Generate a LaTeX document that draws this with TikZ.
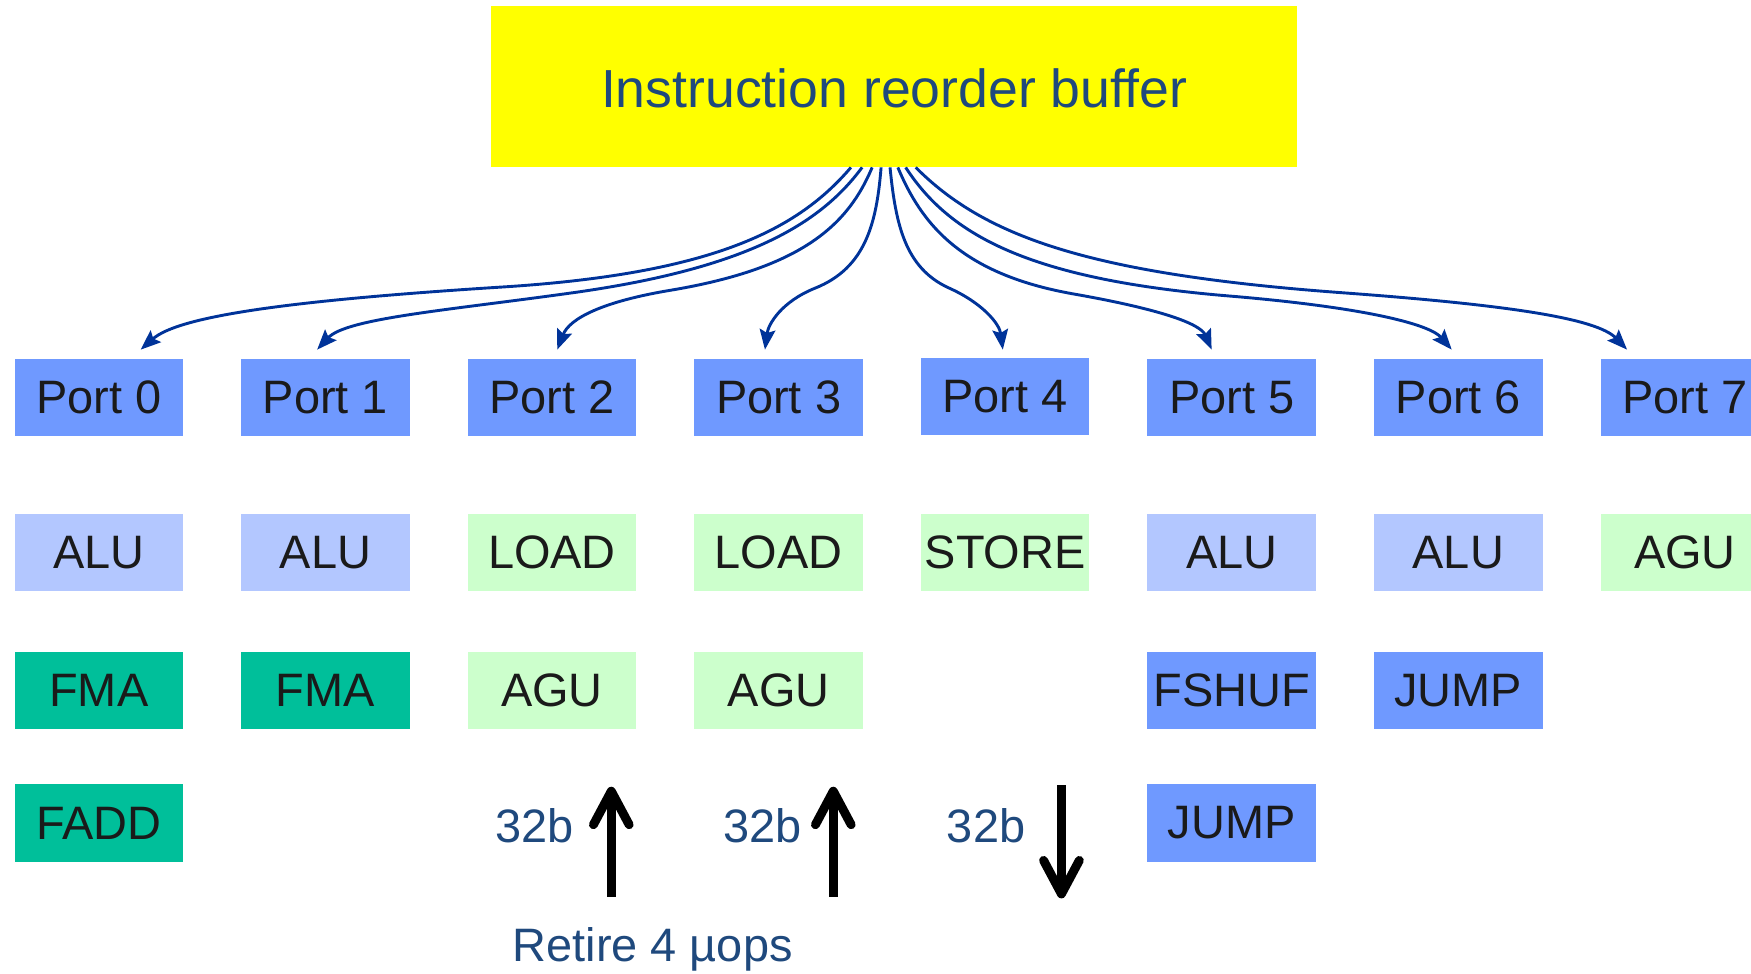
\documentclass[tikz,border=0pt]{standalone}
\usepackage{fontspec}
\setmainfont{Liberation Sans}
\usetikzlibrary{arrows.meta,calc}
\definecolor{portblue}{RGB}{111,153,255}
\definecolor{alublue}{RGB}{179,199,255}
\definecolor{ldgreen}{RGB}{204,255,204}
\definecolor{fmateal}{RGB}{0,191,154}
\definecolor{txtblue}{RGB}{31,73,125}
\definecolor{connblue}{RGB}{0,51,153}
\definecolor{boxtext}{RGB}{26,26,26}
\definecolor{robyellow}{RGB}{255,255,0}
\begin{document}
\begin{tikzpicture}[x=0.5pt,y=-0.5pt,
  box/.style={rectangle, inner sep=0pt, minimum width=75.5pt, minimum height=34.5pt,
              text=boxtext, font=\fontsize{21}{25}\selectfont},
  portbox/.style={box, fill=portblue},
  alubox/.style={box, fill=alublue},
  grnbox/.style={box, fill=ldgreen},
  fmabox/.style={box, fill=fmateal},
  conn/.style={connblue, line width=1.3pt, -{Stealth[length=9pt,width=7pt,inset=1.5pt]}},
  bigarrow/.style={black, line width=4pt, -{Straight Barb[length=15pt,width=16pt,line cap=round,line join=round]}},
  lbl/.style={text=txtblue, font=\fontsize{21}{25}\selectfont, inner sep=0pt, anchor=base}]
\useasboundingbox (0,0) rectangle (1568,872);
\clip (0,0) rectangle (1568,872);

% reorder buffer
\node[rectangle, fill=robyellow, inner sep=0pt, minimum width=360.5pt, minimum height=72pt]
  (rob) at (800.6,77.5) {};
\node[text=txtblue, font=\fontsize{24}{28}\selectfont, inner sep=0pt, anchor=base]
  (robtxt) at (800.6,96) {Instruction reorder buffer};

% ports
\node[portbox] (p0) at (88.5,356) {Port 0};
\node[portbox] (p1) at (291.4,356) {Port 1};
\node[portbox] (p2) at (494.3,356) {Port 2};
\node[portbox] (p3) at (697.2,356) {Port 3};
\node[portbox] (p4) at (900.1,355) {Port 4};
\node[portbox] (p5) at (1103,356) {Port 5};
\node[portbox] (p6) at (1305.9,356) {Port 6};
\node[portbox] (p7) at (1508.8,356) {Port 7};

% second row
\node[alubox] (a0) at (88.5,494.5) {ALU};
\node[alubox] (a1) at (291.4,494.5) {ALU};
\node[grnbox] (a2) at (494.3,494.5) {LOAD};
\node[grnbox] (a3) at (697.2,494.5) {LOAD};
\node[grnbox] (a4) at (900.1,494.5) {STORE};
\node[alubox] (a5) at (1103,494.5) {ALU};
\node[alubox] (a6) at (1305.9,494.5) {ALU};
\node[grnbox] (a7) at (1508.8,494.5) {AGU};

% third row
\node[fmabox] (b0) at (88.5,618) {FMA};
\node[fmabox] (b1) at (291.4,618) {FMA};
\node[grnbox] (b2) at (494.3,618) {AGU};
\node[grnbox] (b3) at (697.2,618) {AGU};
\node[portbox] (b5) at (1103,618) {FSHUF};
\node[portbox] (b6) at (1305.9,618) {JUMP};

% fourth row
\node[fmabox] (c0) at (88.5,737) {FADD};
\node[portbox] (c5) at (1103,737) {JUMP};

% 32b labels and data arrows
\node[lbl] (l2) at (478.5,754) {32b};
\node[lbl] (l3) at (683,754) {32b};
\node[lbl] (l4) at (883,754) {32b};
\coordinate (u2a) at (547.4,803);
\coordinate (u2b) at (547.4,704.5);
\coordinate (u3a) at (746.2,803);
\coordinate (u3b) at (746.2,704.5);
\coordinate (d4a) at (950.5,703);
\coordinate (d4b) at (950.5,804.5);
\draw[bigarrow] (u2a) -- (u2b);
\draw[bigarrow] (u3a) -- (u3b);
\draw[bigarrow] (d4a) -- (d4b);

\node[lbl] (retire) at (584.5,861) {Retire 4 µops};

% dispatch connectors
\draw[conn] ($(rob.south)+(-38.6,0)$) .. controls (715,205) and (640,245) .. (450,257)
  .. controls (260,269) and (160,283) .. ($(p0.north)+(37.5,-8)$);
\draw[conn] ($(rob.south)+(-28.6,0)$) .. controls (735,200) and (670,240) .. (514,262)
  .. controls (400,278) and (310,285) .. ($(p1.north)+(-7.4,-8)$);
\draw[conn] ($(rob.south)+(-19.6,0)$) .. controls (760,200) and (720,240) .. (600,260)
  .. controls (540,270) and (510,285) .. ($(p2.north)+(4.7,-8)$);
\draw[conn] ($(rob.south)+(-11.6,0)$) .. controls (785,200) and (775,240) .. (730,258)
  .. controls (700,270) and (688,290) .. ($(p3.north)+(-12.2,-8)$);
\draw[conn] ($(rob.south)+(-3.6,0)$) .. controls (802,200) and (810,240) .. (850,258)
  .. controls (880,271.5) and (895,290) .. ($(p4.north)+(-2.1,-7)$);
\draw[conn] ($(rob.south)+(3.4,0)$) .. controls (825,200) and (860,245) .. (960,263)
  .. controls (1040,277) and (1075,290) .. ($(p5.north)+(-18,-8)$);
\draw[conn] ($(rob.south)+(10.4,0)$) .. controls (850,210) and (920,250) .. (1100,265)
  .. controls (1220,275) and (1280,290) .. ($(p6.north)+(-5.9,-8)$);
\draw[conn] ($(rob.south)+(19.4,0)$) .. controls (880,210) and (970,245) .. (1200,262)
  .. controls (1350,273) and (1430,285) .. ($(p7.north)+(-51.8,-8)$);
\end{tikzpicture}
\end{document}
